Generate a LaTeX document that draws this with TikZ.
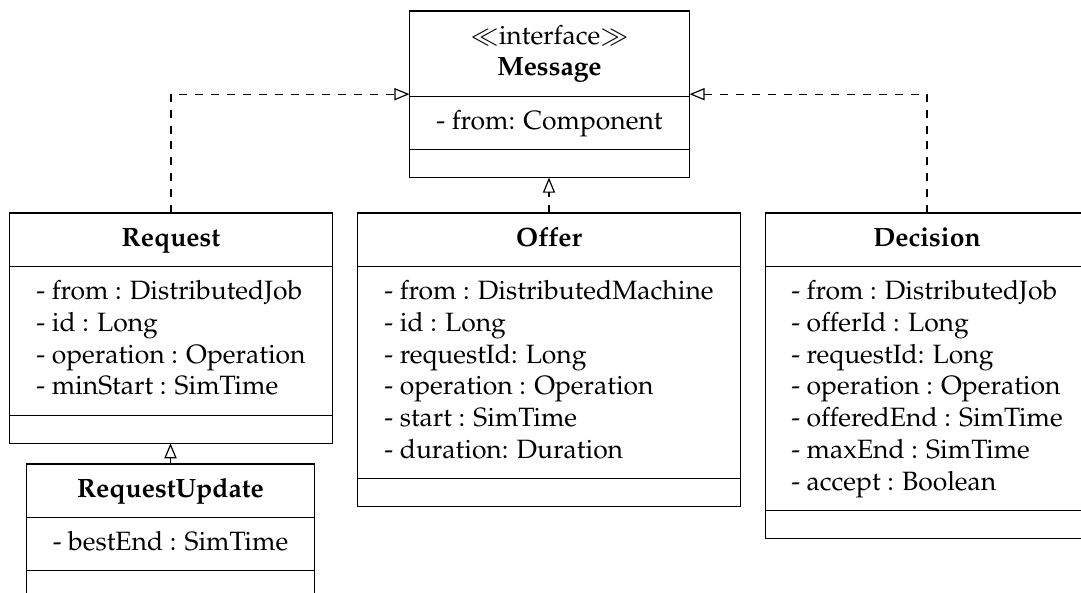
\documentclass[tikz,border=0pt]{standalone}
\usepackage[T1]{fontenc}
\usepackage{mathpazo}
\usetikzlibrary{arrows.meta}

% attribute and title lists: one strut-high row per entry
\newcommand\attrlist[1]{\begin{tabular}{@{}l@{}}#1\end{tabular}}
\newcommand\titlelist[1]{\begin{tabular}{@{}c@{}}#1\end{tabular}}

% outline of a three-compartment class box made of nodes #1-t, #1-a, #1-o
\newcommand\classframe[1]{%
  \draw[frame] (#1-t.north west) rectangle (#1-o.south east);
  \draw[frame] (#1-t.south west) -- (#1-t.south east);
  \draw[frame] (#1-a.south west) -- (#1-a.south east);}

\begin{document}
\begin{tikzpicture}[x=0.3775pt,y=-0.3775pt,
  frame/.style={line width=0.45pt},
  part/.style={anchor=north, inner xsep=0pt, inner ysep=3.875pt,
               minimum width=#1},
  opspart/.style={part=#1, inner ysep=0pt, minimum height=10.2pt},
  realizes/.style={line width=0.45pt, dashed,
                   -{Triangle[open,length=5.7pt,width=4.6pt]}},
  extends/.style={line width=0.45pt,
                  -{Triangle[open,length=5.7pt,width=4.6pt]}}]

\useasboundingbox (0,0) rectangle (1081,592);

% Message interface
\node[part=105.3pt] (msg-t) at (549.5,11)
  {\titlelist{$\ll$interface$\gg$\\\textbf{Message}}};
\node[part=105.3pt] (msg-a) at (msg-t.south) {\attrlist{- from: Component}};
\node[opspart=105.3pt] (msg-o) at (msg-a.south) {};
\classframe{msg}

% Request
\node[part=121.6pt] (req-t) at (171,213) {\titlelist{\textbf{Request}}};
\node[part=121.6pt] (req-a) at (req-t.south) {\attrlist{%
  - from : DistributedJob\\
  - id : Long\\
  - operation : Operation\\
  - minStart : SimTime}};
\node[opspart=121.6pt] (req-o) at (req-a.south) {};
\classframe{req}

% Offer
\node[part=144.2pt] (off-t) at (549,213) {\titlelist{\textbf{Offer}}};
\node[part=144.2pt] (off-a) at (off-t.south) {\attrlist{%
  - from : DistributedMachine\\
  - id : Long\\
  - requestId: Long\\
  - operation : Operation\\
  - start : SimTime\\
  - duration: Duration}};
\node[opspart=144.2pt] (off-o) at (off-a.south) {};
\classframe{off}

% Decision
\node[part=121.6pt] (dec-t) at (927,213) {\titlelist{\textbf{Decision}}};
\node[part=121.6pt] (dec-a) at (dec-t.south) {\attrlist{%
  - from : DistributedJob\\
  - offerId : Long\\
  - requestId: Long\\
  - operation : Operation\\
  - offeredEnd : SimTime\\
  - maxEnd : SimTime\\
  - accept : Boolean}};
\node[opspart=121.6pt] (dec-o) at (dec-a.south) {};
\classframe{dec}

% RequestUpdate
\node[part=108.3pt] (upd-t) at (170.5,464) {\titlelist{\textbf{RequestUpdate}}};
\node[part=108.3pt] (upd-a) at (upd-t.south) {\attrlist{- bestEnd : SimTime}};
\node[opspart=108.3pt] (upd-o) at (upd-a.south) {};
\classframe{upd}

% realizations of the interface
\draw[realizes] (req-t.north) |- ([yshift=0.75pt]msg-t.south west);
\draw[realizes] (dec-t.north) |- ([yshift=0.75pt]msg-t.south east);
\draw[realizes] (off-t.north) -- (off-t.north |- msg-o.south);

% RequestUpdate specializes Request
\draw[extends] (upd-t.north) -- (upd-t.north |- req-o.south);
\end{tikzpicture}
\end{document}
